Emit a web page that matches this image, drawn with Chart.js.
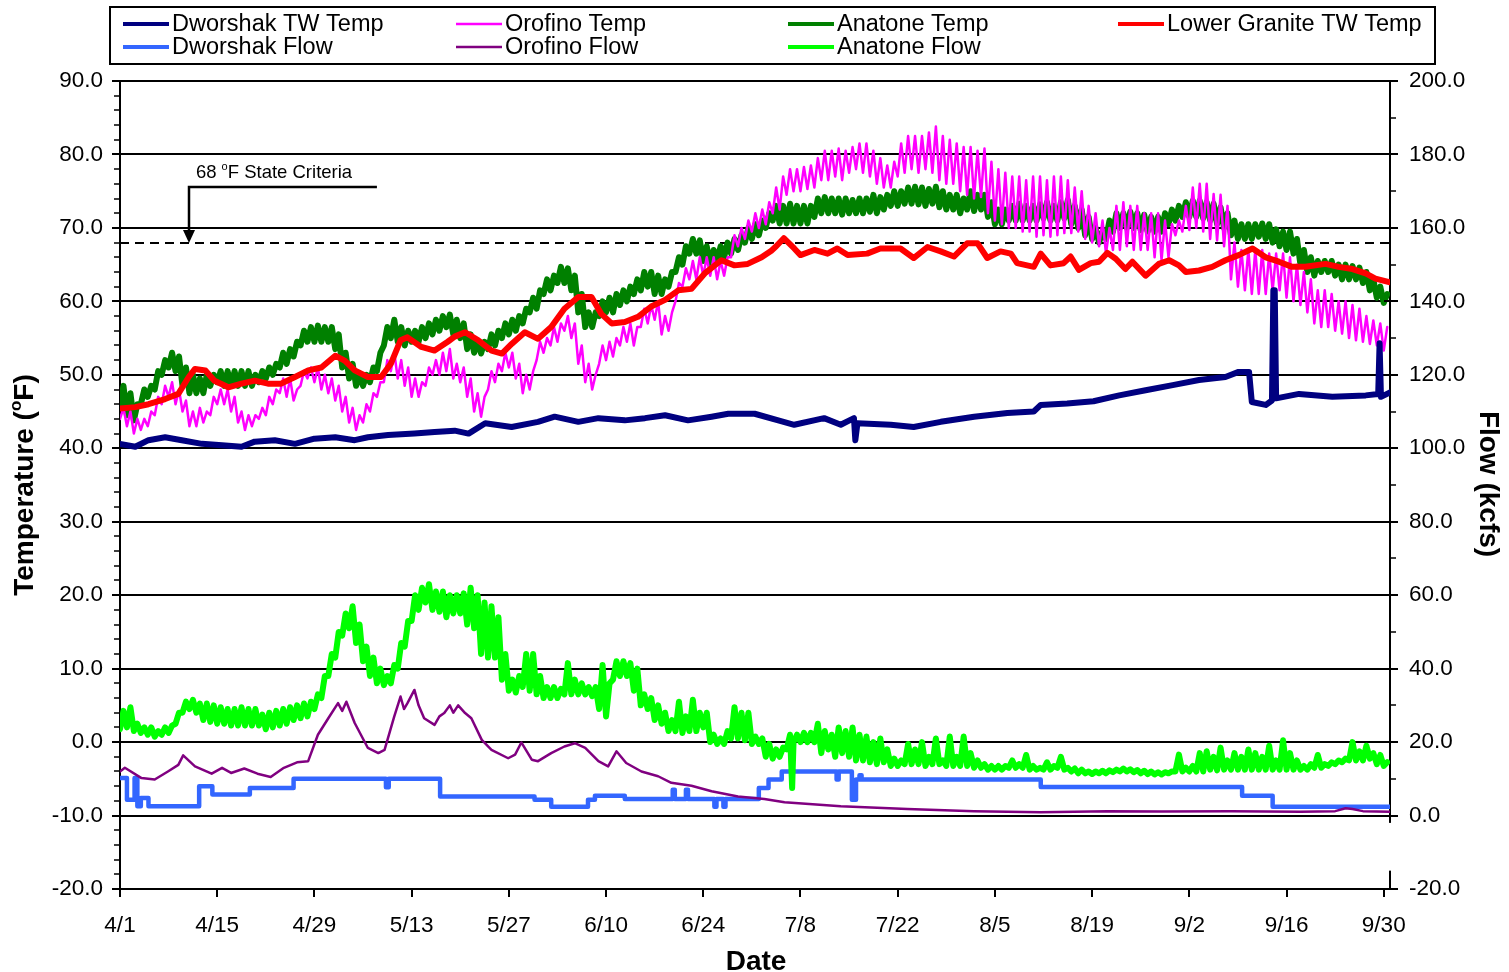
<!DOCTYPE html>
<html>
<head>
<meta charset="utf-8">
<title>Temperature and Flow</title>
<script src="https://cdn.jsdelivr.net/npm/chart.js@4.4.1/dist/chart.umd.min.js"></script>
<style>
  html, body { margin: 0; padding: 0; background: #fff; }
  #wrap { width: 1509px; height: 972px; }
</style>
</head>
<body>
<div id="wrap"><canvas id="tempFlowChart" width="1509" height="972"></canvas></div>
<script>
// Days are counted from 4/1 (day 0). Temperatures in °F, flows in kcfs.
const tickDays = [0, 14, 28, 42, 56, 70, 84, 98, 112, 126, 140, 154, 168, 182];
const tickLabels = ['4/1', '4/15', '4/29', '5/13', '5/27', '6/10', '6/24', '7/8', '7/22', '8/5', '8/19', '9/2', '9/16', '9/30'];
const criteria = 68;

// Orofino temp, daily low / high (one value per day)
const orofinoLo = [
  44, 43, 42, 42.5, 43, 44.5, 46, 47, 46, 45, 43, 43, 43.5, 44.5,
  46, 46, 45, 43.5, 42.5, 43, 44, 44.5, 46, 47.5, 47, 46.5, 48.5, 49.5,
  49, 48, 47.5, 46.5, 45, 43.5, 42.5, 43.5, 45, 47, 49, 50.5, 49.5, 48.5,
  47, 47, 48.5, 50, 50, 50.5, 49.5, 49, 47, 45, 44.3, 48, 49, 50.5,
  51, 49.5, 47.5, 48, 52, 53, 54, 54.5, 56, 55, 51.5, 49, 48, 51.5,
  52, 52.5, 54, 54.5, 54, 56.5, 57, 57.5, 55.5, 56, 60, 62, 63, 63,
  63.5, 63.5, 63, 63.5, 66, 67.5, 68.5, 69.5, 70, 70.5, 72, 72.5, 74.5, 75,
  75, 75.3, 75.5, 76.5, 76.5, 77, 76.5, 77.5, 78, 77.5, 77, 76, 75.5, 75.5,
  77, 77.5, 78, 77.5, 78, 77.5, 76.5, 76, 76, 75, 74.5, 74, 74.2, 72,
  71, 70.5, 70, 70, 69.5, 69.5, 68.8, 69, 68.8, 69, 69.3, 69.3, 69.5, 68.5,
  68, 67.5, 66.5, 67, 67, 67.5, 67, 67, 67, 66, 65.6, 66, 69, 69.5,
  69.7, 70, 69.5, 68.5, 68.3, 67.5, 63, 62, 61.5, 61, 61, 61, 61.5, 61.5,
  60.5, 60, 59.5, 58.5, 57, 56.5, 56.5, 56, 55.6, 55, 54.7, 54.5, 54.2, 54,
  53.3
];
const orofinoHi = [
  45.5, 45, 44, 44, 45, 47, 48.5, 49, 48, 46.5, 45, 45.5, 45, 47,
  48, 48, 47, 45, 44.5, 44.5, 45.5, 47, 48, 49.5, 49.5, 48, 50.5, 51,
  51, 50, 49.5, 48.5, 47, 45.5, 44.5, 46, 47.5, 49, 52, 53, 52, 51,
  49.5, 49, 51, 52, 53, 53.5, 51.5, 51, 49.5, 47.5, 47, 50.5, 51.5, 53,
  53, 51.5, 50, 50.5, 54.5, 55, 56.5, 57, 58, 57, 54, 51.5, 50, 54,
  54.5, 55, 56.5, 57, 56.5, 59, 59.5, 60, 58, 58.5, 62.5, 64.5, 65.5, 66,
  66, 66, 65.5, 66, 69, 70, 71, 72, 72.5, 73.5, 75.5, 77, 78, 78,
  78.3, 78.5, 79.5, 80.5, 80.5, 80.8, 80.5, 81, 81.5, 81.5, 80.5, 79.5, 78.5, 79,
  81.5, 82.5, 82.5, 82.5, 83, 83.8, 82.5, 82, 81.5, 81, 81, 80.5, 80.8, 79,
  78, 77.5, 77, 77, 76.5, 77, 77, 76.5, 77, 77, 76.5, 75.5, 75, 73,
  72, 71, 70, 73, 73.5, 73, 73, 72, 72, 72, 71, 70.5, 71, 73,
  75.5, 76, 76, 74.6, 74.5, 73, 68, 67, 67, 67, 67, 66.5, 66.5, 66.5,
  66, 65, 64, 63, 61.5, 61.5, 61, 60, 60, 59.5, 59, 58, 57.4, 57,
  56.5
];

// Anatone temp, daily low / high
const anatoneLo = [
  46, 44.5, 43.8, 46, 47, 48, 50, 51, 50.5, 48.5, 47.5, 47.5, 47.5, 48.5,
  49, 48.5, 48.5, 48.5, 48.5, 48.5, 49, 49.5, 50, 51, 51.5, 52.5, 54, 54.5,
  54.5, 54.5, 54.5, 53.5, 51, 49.5, 48.5, 48.5, 49, 50.5, 54, 55, 54.5, 54,
  54.5, 54.5, 55, 55.5, 56, 56.5, 55.5, 55, 53.5, 53, 52.9, 53.5, 54, 55,
  55.5, 56, 57, 58.5, 59, 61, 61.5, 62.5, 62.5, 61.5, 58.5, 56.5, 56.5, 58,
  58.5, 58.5, 59.5, 60, 61, 61.5, 62, 61, 61, 62, 64, 65, 66.5, 66.5,
  65.5, 65, 65.5, 66, 66.5, 67, 68, 68.5, 69, 70, 71, 70.6, 70.6, 70.6,
  70.6, 70.6, 71.5, 72, 72, 72, 71.8, 72, 72, 72, 72.2, 72, 72.5, 73,
  73, 73.3, 73.3, 73.2, 73, 73.3, 72.8, 72.5, 72.5, 72, 72.5, 72.3, 72.5, 71.5,
  70.5, 70.5, 71, 71, 71, 71, 71, 71.3, 71, 71, 71.3, 70.5, 70, 69,
  68.5, 68, 68.5, 69.5, 70, 70, 70, 69.7, 69.5, 69.5, 69.5, 70.5, 71, 71.5,
  71.5, 71.5, 71.3, 71, 70.5, 70, 69, 68.5, 68.5, 68.5, 68.8, 68.5, 68, 67.5,
  67, 66.5, 65, 64, 63.5, 64, 64, 63.5, 63, 63, 63, 62.5, 61.5, 60.5,
  59.8
];
const anatoneHi = [
  48.5, 47.5, 46, 48, 48.5, 50.5, 52, 53, 52.5, 51, 50, 49.5, 50, 50,
  50.5, 50.5, 50.5, 50.5, 50.5, 50, 50.5, 51, 51.5, 53, 53.5, 54.5, 56, 56.5,
  56.7, 56.5, 56.5, 55.5, 53, 51.5, 50, 50, 51, 53, 56.5, 57.5, 56.5, 56,
  56, 56.5, 57, 57.5, 58, 58.2, 57.5, 57, 55.5, 54.5, 54.5, 55.5, 56, 57,
  57.5, 58, 59, 60.5, 61.5, 63, 63.5, 64.7, 64.5, 63.5, 61, 58.5, 58.5, 60,
  60.5, 61, 61.5, 62, 63, 64, 64, 63.5, 63, 64, 66, 67.5, 68.5, 68.3,
  67.5, 67, 67.5, 68, 68.5, 69, 70, 70.5, 71, 72, 73, 73, 73.3, 73,
  73, 73, 74, 74.2, 74, 74, 74, 73.8, 74, 74, 74.5, 74.2, 74.5, 75,
  75, 75.5, 75.6, 75.5, 75.3, 75.6, 75, 74.5, 74.5, 74, 75, 74.5, 74.5, 73.5,
  72.5, 72.5, 73, 73.3, 73, 73, 73.2, 73.5, 73, 73.5, 73.8, 73, 72.5, 71.5,
  70, 69.5, 71, 72, 72, 72.2, 72, 71.8, 71.5, 71.5, 72, 72.5, 73, 73.5,
  73.7, 73.7, 73.5, 73.3, 72.8, 72, 71, 70.5, 70.5, 70.5, 70.6, 70.5, 69.8, 69.5,
  69.5, 68.5, 67, 66, 65.5, 65.5, 65.5, 65, 65, 64.8, 64.6, 64, 63, 62,
  61
];

// Anatone flow, daily low / high, plus one short drop
const anatoneFlowLo = [
  23.5, 24, 23, 22.5, 22, 21.5, 22, 22.5, 25, 28, 29, 28, 26, 25.5,
  25, 25, 24.5, 24.5, 24.5, 24.5, 24.5, 23.5, 24, 24.5, 25, 26, 26.5, 27,
  29, 32, 38, 43, 49, 51, 47, 42, 38, 36, 35.5, 36, 40, 46,
  53, 56, 58, 56, 55.5, 54, 55, 55, 52, 51, 44, 43, 43, 37,
  34, 33.5, 35, 34, 33, 32, 32, 32, 33, 33, 33, 33, 32.5, 29,
  27, 37, 38, 38, 34, 30, 29, 26, 25, 23, 23, 22.5, 23, 23,
  24, 20, 19.5, 19.5, 21, 21, 20.5, 19.5, 19.5, 16, 15.5, 16, 18, 20,
  20, 20, 20, 17, 18, 16, 17, 16, 15, 15, 14.5, 14, 14.5, 13.5,
  13.5, 14, 14, 14, 13.5, 14, 14, 13.5, 13.5, 13.5, 13.5, 13, 13, 12.5,
  12.5, 12.5, 13, 13, 13, 12.5, 12.5, 12.5, 12.5, 13, 12.5, 12, 11.5, 11.5,
  11.3, 11.5, 11.5, 11.8, 12, 12, 11.8, 11.5, 11.3, 11.2, 11.2, 11.5, 12, 12,
  12, 12, 12, 12.5, 12.3, 12.5, 12.5, 12.5, 12.5, 12.5, 12.5, 12.5, 12.5, 12.5,
  12.5, 12.5, 12.5, 12.5, 13, 13, 13.5, 14, 14.5, 15, 15, 15, 15.5, 14,
  13.5
];
const anatoneFlowHi = [
  28.5, 29.5, 25, 24, 24, 23, 24, 24.5, 28, 31, 31.5, 30.5, 30.5, 30,
  29.5, 29, 29, 29.5, 29, 29, 27.5, 28, 28.5, 29, 29.5, 30, 30.5, 31,
  33, 38, 44, 50, 55, 57, 52, 46, 43, 40, 38, 41, 47, 53,
  60, 62, 63, 61, 61, 60, 60, 60.5, 62, 60, 58, 57, 54, 44,
  37, 38, 44, 44, 38, 35, 35, 34.5, 41.5, 37, 36, 35, 35, 41,
  36, 42, 42, 41.5, 40, 33, 32, 30, 28, 26, 31, 27, 31.5, 28,
  28, 22, 21, 23, 29.5, 28, 28, 21.5, 21, 19.5, 18, 18.5, 22, 22,
  22.5, 22.5, 25, 23, 22, 24, 23, 24, 22, 21.5, 20, 21, 18, 15.5,
  15, 19.5, 18, 20, 16, 21, 15, 21.5, 16, 21.5, 17, 15, 14, 13.5,
  13.5, 13.5, 15, 14, 16.5, 13.5, 13, 14.5, 13.5, 16, 13, 12.8, 12.5, 12,
  12, 12.2, 12.3, 12.5, 12.8, 12.6, 12.4, 12.2, 12, 11.8, 11.8, 12, 16.6, 13,
  13.5, 17, 17.5, 16, 18.5, 15, 17, 16, 18, 17, 16, 19, 15, 20.5,
  17, 15, 13.5, 14, 16.5, 14, 14.5, 15, 15.5, 20, 17.5, 19, 17, 16.5,
  14.5
];
const anatoneFlowDips = [[96.8, 7.5]];

// [day, value] readings for the smoother series
const lowerGraniteTemp = [
  [0, 45.4], [2.2, 45.6], [4.1, 46], [6.5, 46.7], [8.4, 47.4], [9.9, 49.7], [10.8, 50.8], [12.3, 50.6],
  [13.6, 49.2], [15.6, 48.3], [17.5, 48.8], [19.4, 49.2], [21.3, 48.8], [23.2, 48.8], [25.2, 49.7],
  [27.1, 50.6], [29, 51], [31, 52.6], [32.4, 51.9], [33.8, 50.6], [35.7, 49.7], [37.6, 49.7], [39, 51.5],
  [40.4, 54.7], [41.4, 55.1], [43.4, 53.8], [45.3, 53.3], [47.2, 54.5], [48.2, 55.2], [49.7, 55.8],
  [51.6, 54.7], [53.5, 53.3], [55, 52.9], [56.4, 54.2], [58.3, 55.8], [60.2, 54.9], [62.1, 56.5],
  [64, 59], [66, 60.6], [67.9, 60.6], [69.3, 58.3], [70.8, 57], [72.7, 57.2], [74.6, 57.9], [76.5, 59.3],
  [78.5, 60.2], [80.4, 61.5], [82.3, 61.7], [84.2, 63.8], [86.6, 65.6], [88.5, 64.9], [90.4, 65.1],
  [92.4, 66], [93.8, 66.9], [94.5, 67.5], [95.6, 68.6], [97.1, 67.2], [98, 66.3], [100, 67], [101.9, 66.5],
  [103.3, 67.2], [104.8, 66.3], [107.6, 66.5], [109.5, 67.2], [112.4, 67.2], [114.3, 65.9], [116.3, 67.4],
  [118.2, 66.8], [120.1, 66.1], [122, 67.9], [123.5, 67.9], [124.9, 65.9], [126.8, 66.8], [128.3, 66.5],
  [129.2, 65.2], [131.6, 64.7], [132.6, 66.5], [134, 64.9], [135.9, 65.2], [136.9, 66.1], [138.1, 64.3],
  [139.8, 65.2], [141, 65.4], [142.2, 66.6], [143.4, 65.8], [144.8, 64.4], [145.8, 65.4], [147.7, 63.5],
  [149.6, 65.1], [151.1, 65.6], [152.5, 64.9], [153.5, 64], [155.4, 64.2], [157.3, 64.7], [159.2, 65.6],
  [161.1, 66.3], [163.1, 67.2], [165, 66], [166.9, 65.4], [168.8, 64.7], [170.7, 64.7], [173.6, 65.1],
  [175.5, 64.7], [177.5, 64.4], [179.4, 63.8], [180.8, 63.1], [182.9, 62.6]
];
const dworshakTemp = [
  [0, 40.6], [2.2, 40.2], [4.1, 41.1], [6.5, 41.5], [8.9, 41.1], [11.8, 40.6], [14.7, 40.4], [17.5, 40.2],
  [19.4, 40.9], [22.3, 41.1], [25.2, 40.6], [28, 41.3], [31, 41.5], [33.8, 41.1], [35.7, 41.5], [38.6, 41.8],
  [42.4, 42], [45.3, 42.2], [48.2, 42.4], [50.2, 42], [52.6, 43.4], [56.4, 42.9], [60.2, 43.6], [62.6, 44.3],
  [66, 43.6], [68.9, 44.1], [72.7, 43.8], [75.6, 44.1], [78.5, 44.5], [81.8, 43.8], [85.2, 44.3], [87.6, 44.7],
  [91.4, 44.7], [94.8, 43.8], [97.1, 43.2], [101.4, 44.1], [103.8, 43.2], [105.7, 44.1], [105.9, 41.1],
  [106.2, 43.4], [111, 43.2], [114.3, 42.9], [118.2, 43.6], [123, 44.3], [127.8, 44.8], [131.6, 45],
  [132.6, 45.9], [136.4, 46.1], [140.2, 46.4], [143.9, 47.2], [147.7, 47.9], [151.6, 48.6], [155.4, 49.3],
  [159.2, 49.7], [161.1, 50.4], [162.6, 50.4], [163, 46.3], [165, 45.9], [165.9, 46.5], [166.1, 61.5],
  [166.3, 61.5], [166.5, 46.8], [169.8, 47.4], [174.6, 47], [179.4, 47.2], [181.2, 47.4], [181.4, 54.3],
  [181.6, 47], [182.9, 47.6]
];
const orofinoFlow = [
  [0, 12], [0.7, 13], [3.1, 10.2], [5, 9.8], [6.9, 12], [8.4, 13.8], [9.1, 16.4], [10.8, 13.4], [13.2, 11.4],
  [14.7, 13], [16, 11.6], [17.9, 12.8], [19.8, 11.4], [21.7, 10.5], [23.6, 13], [25.5, 14.5], [27.1, 14.8],
  [28.5, 22], [30, 26.5], [31.4, 30.6], [32, 28.5], [32.6, 31], [33.8, 25.2], [35.7, 18.4], [37.2, 17],
  [38.1, 17.9], [39.5, 27], [40.4, 32.4], [40.9, 29], [41.4, 30.6], [42.4, 34.2], [43, 30], [43.8, 26.5],
  [45.3, 24.7], [46, 27], [46.7, 27.9], [47.5, 30], [48, 28], [48.7, 30], [49.7, 27.9], [50.6, 26.5],
  [52.1, 20.6], [53.5, 17.9], [55.9, 15.6], [56.9, 16.6], [57.8, 19.9], [59.3, 15.2], [60.2, 14.8],
  [62.1, 17], [64, 18.8], [65.5, 19.7], [67, 18.4], [68.9, 14.8], [70.3, 13.4], [71.5, 17.5], [72.9, 14.3],
  [75.1, 12], [77.5, 10.7], [79.4, 8.9], [82.3, 8.1], [85.2, 6.6], [89, 5.2], [92.8, 4.5], [95.7, 3.6],
  [103.8, 2.5], [113.4, 1.8], [123, 1.2], [132.6, 0.9], [142.2, 1.2], [150, 1.1], [160, 1.2], [170, 1],
  [175, 1.2], [176.5, 2], [177.5, 1.8], [179, 1.2], [182.9, 1]
];
// Dworshak releases change in steps: [day the step starts, kcfs]
const dworshakFlow = [
  [0, 10.2], [1, 4.3], [2.1, 10.2], [2.5, 2.5], [3, 4.8], [4.1, 2.5], [11.4, 8], [13.3, 5.7], [18.7, 7.5],
  [25, 10], [38.3, 7.7], [38.7, 10], [46.1, 5.2], [59.7, 4.3], [62.1, 2.4], [67.4, 4.3], [68.4, 5.4],
  [72.7, 4.5], [79.6, 7], [79.9, 4.5], [81.5, 7], [81.8, 4.5], [85.6, 2.4], [85.9, 4.5], [86.9, 2.4],
  [87.2, 4.5], [92, 7.5], [93.4, 9.8], [95.3, 12], [103.2, 9.8], [103.5, 12], [105.4, 4.3], [106, 9.8],
  [106.5, 11], [106.8, 9.8], [132.6, 7.8], [161.6, 5.4], [166, 2.4], [182.9, 2.4]
];

const FONT = '"Liberation Sans", Arial, Helvetica, sans-serif';
Chart.defaults.font.family = FONT;
Chart.defaults.color = '#000';

const pairs = list => list.map(([x, y]) => ({ x, y }));
const daily = (lo, hi) => lo.flatMap((v, d) => [{ x: d, y: v }, { x: d + 0.5, y: hi[d] }]);

const datasets = [
  { label: 'Dworshak TW Temp', data: pairs(dworshakTemp), borderColor: '#000080', borderWidth: 6, yAxisID: 'y', order: 2 },
  { label: 'Orofino Temp', data: daily(orofinoLo, orofinoHi), borderColor: '#ff00ff', borderWidth: 2.5, yAxisID: 'y', order: 3 },
  { label: 'Anatone Temp', data: daily(anatoneLo, anatoneHi), borderColor: '#008000', borderWidth: 6, yAxisID: 'y', order: 4 },
  { label: 'Lower Granite TW Temp', data: pairs(lowerGraniteTemp), borderColor: '#ff0000', borderWidth: 6, yAxisID: 'y', order: 1 },
  // stepped: true holds each value until the next point
  { label: 'Dworshak Flow', data: pairs(dworshakFlow), borderColor: '#3366ff', borderWidth: 4.5, stepped: true, yAxisID: 'y1', order: 7 },
  { label: 'Orofino Flow', data: pairs(orofinoFlow), borderColor: '#800080', borderWidth: 2.5, yAxisID: 'y1', order: 6 },
  { label: 'Anatone Flow',
    data: daily(anatoneFlowLo, anatoneFlowHi).concat(pairs(anatoneFlowDips)).sort((a, b) => a.x - b.x),
    borderColor: '#00ff00', borderWidth: 6, yAxisID: 'y1', order: 5 }
];

// text with a raised small "o" for the degree sign, centred on x
function supText(ctx, parts, x, y, size, bold) {
  const big = (bold ? 'bold ' : '') + size + 'px ' + FONT;
  const small = (bold ? 'bold ' : '') + Math.round(size * 0.62) + 'px ' + FONT;
  let w = 0;
  parts.forEach(p => { ctx.font = p.sup ? small : big; w += ctx.measureText(p.t).width; });
  let cx = x - w / 2;
  ctx.textAlign = 'left';
  ctx.textBaseline = 'alphabetic';
  parts.forEach(p => {
    ctx.font = p.sup ? small : big;
    ctx.fillText(p.t, cx, p.sup ? y - size * 0.42 : y);
    cx += ctx.measureText(p.t).width;
  });
}

const decorations = {
  id: 'decorations',
  beforeDatasetsDraw(chart) {
    const { ctx, chartArea: a, scales: { y } } = chart;
    const yy = Math.round(y.getPixelForValue(criteria));
    ctx.save();
    ctx.setLineDash([9, 6]);
    ctx.lineWidth = 2;
    ctx.strokeStyle = '#000';
    ctx.beginPath();
    ctx.moveTo(a.left, yy);
    ctx.lineTo(a.right, yy);
    ctx.stroke();
    ctx.restore();
  },
  afterDraw(chart) {
    const { ctx, chartArea: a, scales: { x, y, y1 } } = chart;
    ctx.save();
    ctx.strokeStyle = '#000';
    ctx.fillStyle = '#000';

    // minor ticks
    ctx.lineWidth = 1.5;
    ctx.beginPath();
    for (let v = -20; v <= 90; v += 2) {
      if (v % 10 === 0) continue;
      const py = Math.round(y.getPixelForValue(v));
      ctx.moveTo(a.left - 6, py);
      ctx.lineTo(a.left, py);
    }
    for (let v = 10; v <= 190; v += 20) {
      const py = Math.round(y1.getPixelForValue(v));
      ctx.moveTo(a.right, py);
      ctx.lineTo(a.right + 6, py);
    }
    ctx.stroke();
    // right axis major ticks cross into the plot
    ctx.lineWidth = 2;
    ctx.beginPath();
    for (let v = -20; v <= 200; v += 20) {
      const py = Math.round(y1.getPixelForValue(v));
      ctx.moveTo(a.right - 6, py);
      ctx.lineTo(a.right, py);
    }
    ctx.stroke();
    // break in the right axis below the zero-flow line
    ctx.fillStyle = '#fff';
    ctx.fillRect(a.right - 4, y1.getPixelForValue(-2), 8, y1.getPixelForValue(-15) - y1.getPixelForValue(-2));
    ctx.fillStyle = '#000';

    // criteria callout
    const ax = Math.round(x.getPixelForValue(10));
    const tip = Math.round(y.getPixelForValue(criteria));
    ctx.lineWidth = 2.5;
    ctx.beginPath();
    ctx.moveTo(x.getPixelForValue(37), tip - 56);
    ctx.lineTo(ax, tip - 56);
    ctx.lineTo(ax, tip - 12);
    ctx.stroke();
    ctx.beginPath();
    ctx.moveTo(ax - 6, tip - 13);
    ctx.lineTo(ax + 6, tip - 13);
    ctx.lineTo(ax, tip);
    ctx.closePath();
    ctx.fill();
    supText(ctx, [{ t: '68 ' }, { t: 'o', sup: true }, { t: 'F State Criteria' }], ax + 85, tip - 65, 18.5, false);

    // legend
    ctx.lineWidth = 2;
    ctx.strokeRect(110, 7, 1325, 57);
    const colX = [123, 456, 788, 1118];
    const rowY = [24, 47];
    ctx.font = '23.5px ' + FONT;
    ctx.textAlign = 'left';
    ctx.textBaseline = 'middle';
    chart.data.datasets.forEach((ds, i) => {
      const cx = colX[i % 4], cy = rowY[Math.floor(i / 4)];
      ctx.strokeStyle = ds.borderColor;
      ctx.lineWidth = Math.min(ds.borderWidth, 4);
      ctx.beginPath();
      ctx.moveTo(cx, cy);
      ctx.lineTo(cx + 46, cy);
      ctx.stroke();
      ctx.fillText(ds.label, cx + 49, cy + 1);
    });

    // axis titles
    ctx.save();
    ctx.translate(24, 485);
    ctx.rotate(-Math.PI / 2);
    supText(ctx, [{ t: 'Temperature (' }, { t: 'o', sup: true }, { t: 'F)' }], 0, 9, 28, true);
    ctx.restore();
    ctx.save();
    ctx.translate(1489, 484);
    ctx.rotate(Math.PI / 2);
    supText(ctx, [{ t: 'Flow (kcfs)' }], 0, 9, 28, true);
    ctx.restore();
    supText(ctx, [{ t: 'Date' }], 756, 970, 28, true);

    ctx.restore();
  }
};

new Chart(document.getElementById('tempFlowChart'), {
  type: 'line',
  data: { datasets },
  options: {
    responsive: false,
    animation: false,
    layout: { padding: { top: 81 } },
    elements: {
      point: { radius: 0 },
      line: { tension: 0, borderJoinStyle: 'round', borderCapStyle: 'round', fill: false }
    },
    plugins: { legend: { display: false }, tooltip: { enabled: false } },
    scales: {
      x: {
        type: 'linear', min: 0, max: 182.9,
        afterBuildTicks: s => { s.ticks = tickDays.map(v => ({ value: v })); },
        afterFit: s => { s.height = 83; },
        grid: { drawOnChartArea: false, drawTicks: true, tickLength: 8, color: '#000', lineWidth: 2 },
        border: { color: '#000', width: 2 },
        ticks: { autoSkip: false, maxRotation: 0, padding: 15, font: { size: 22.5 }, callback: (v, i) => tickLabels[i] }
      },
      y: {
        position: 'left', min: -20, max: 90,
        afterFit: s => { s.width = 120; },
        grid: { color: '#000', lineWidth: 2, tickLength: 8 },
        border: { color: '#000', width: 2 },
        ticks: { stepSize: 10, padding: 9, font: { size: 22.5 }, callback: v => v.toFixed(1) }
      },
      y1: {
        position: 'right', min: -20, max: 200,
        afterFit: s => { s.width = 119; },
        grid: { drawOnChartArea: false, tickLength: 8, color: '#000', lineWidth: 2 },
        border: { color: '#000', width: 2 },
        ticks: { stepSize: 20, padding: 11, font: { size: 22.5 }, callback: v => v.toFixed(1) }
      }
    }
  },
  plugins: [decorations]
});
</script>
</body>
</html>
